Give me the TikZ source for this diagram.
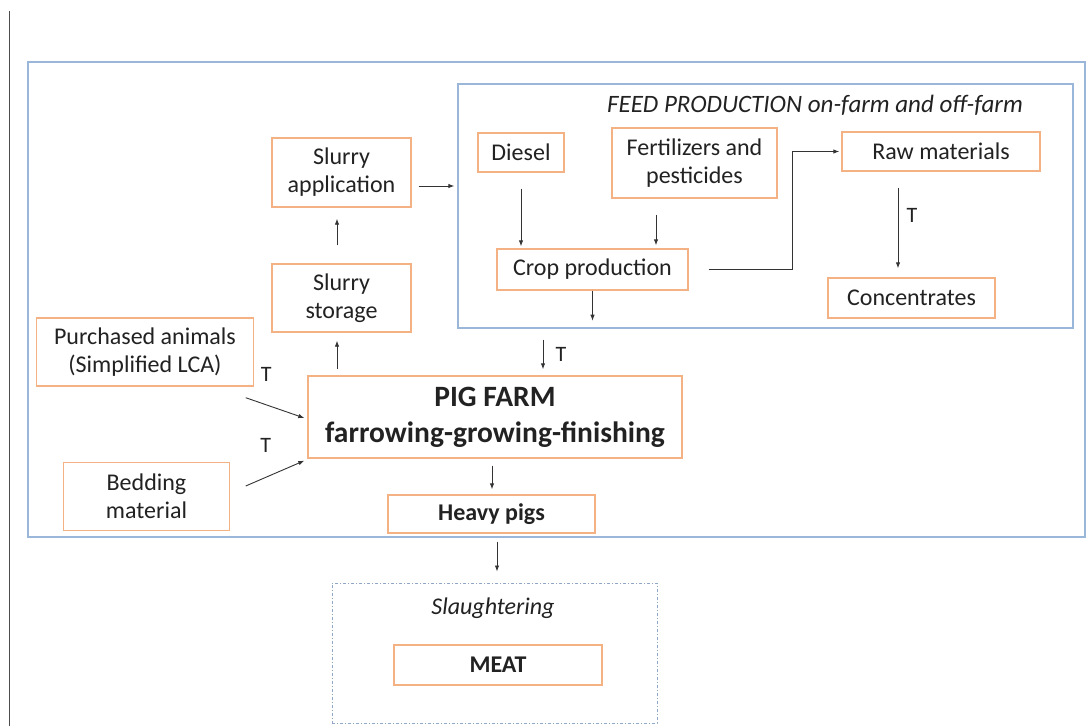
\documentclass[tikz,border=0pt]{standalone}
\usepackage{fontspec}
\setmainfont{Carlito}
\usetikzlibrary{arrows.meta,calc}
\definecolor{boxor}{HTML}{F4B183}
\definecolor{boxbl}{HTML}{9AB6D8}
\definecolor{dotbl}{HTML}{8FA8C8}
\definecolor{txt}{HTML}{222222}
\definecolor{arrc}{HTML}{333333}
\begin{document}
\begin{tikzpicture}[x=1pt,y=-1pt,
  obox/.style={draw=boxor,line width=1.4pt,inner sep=0pt,align=center,text=txt,
    font=\fontsize{24}{28}\selectfont},
  arr/.style={draw=arrc,line width=0.9pt,-{Latex[length=6pt,width=4.5pt]}},
  tlab/.style={text=txt,font=\fontsize{22}{24}\selectfont,inner sep=0pt}]
\useasboundingbox (0,0) rectangle (1088,726);
\fill[white] (0,0) rectangle (1088,726);
\draw[line width=1pt,color=black!70] (9,11) -- (9,726);
% outer system boundary
\node[draw=boxbl,line width=1.4pt,minimum width=1057pt,minimum height=475pt,inner sep=0pt] (outer) at (556.5,299.5) {};
% feed production box
\node[draw=boxbl,line width=1.4pt,minimum width=615pt,minimum height=244pt,inner sep=0pt] (feed) at (765.5,206) {};
\node[text=txt,font=\fontsize{25}{28}\selectfont\itshape,inner sep=0pt] (feedt) at (815,105) {FEED PRODUCTION on-farm and off-farm};
% slaughtering box
\node[draw=dotbl,line width=1pt,dash pattern=on 3pt off 2pt on 1pt off 2pt,minimum width=325pt,minimum height=140pt,inner sep=0pt] (slau) at (494.5,653) {};
\node[text=txt,font=\fontsize{24}{28}\selectfont\itshape,inner sep=0pt] (slaut) at (493,608) {Slaughtering};
% boxes
\node[obox,minimum width=139pt,minimum height=69pt] (slapp) at (341.5,172.5) {Slurry\\application};
\node[obox,minimum width=139pt,minimum height=68pt] (slsto) at (341.5,298) {Slurry\\storage};
\node[obox,minimum width=217pt,minimum height=68pt] (purch) at (145,352) {Purchased animals\\(Simplified LCA)};
\node[obox,minimum width=166pt,minimum height=68pt] (bed) at (146.5,496.5) {Bedding\\material};
\node[obox,minimum width=374pt,minimum height=82pt,font=\fontsize{29.5}{36}\selectfont\bfseries] (pig) at (495,417) {PIG FARM\\farrowing-growing-finishing};
\node[obox,minimum width=207pt,minimum height=38pt,font=\fontsize{24}{28}\selectfont\bfseries] (heavy) at (491.5,514) {Heavy pigs};
\node[obox,minimum width=208pt,minimum height=40pt,font=\fontsize{24}{28}\selectfont\bfseries] (meat) at (498,665) {MEAT};
\node[obox,minimum width=86pt,minimum height=39pt] (diesel) at (521,152.5) {Diesel};
\node[obox,minimum width=165pt,minimum height=70pt] (fert) at (694.5,163) {Fertilizers and\\pesticides};
\node[obox,minimum width=198pt,minimum height=39pt] (raw) at (941,151.5) {Raw materials};
\node[obox,minimum width=191pt,minimum height=41pt] (crop) at (592.5,269.5) {Crop production};
\node[obox,minimum width=167pt,minimum height=40pt] (conc) at (911.5,298) {Concentrates};
% connectors inside feed production
\draw[arr,shorten >=2pt] ([yshift=-16pt]diesel.south) -- (diesel.south |- crop.north);
\draw[arr,shorten >=3pt] ([xshift=-38.5pt,yshift=-16pt]fert.south) -- ([xshift=-38.5pt]fert.south |- crop.north);
\draw[arr,shorten >=2pt] ([xshift=20pt]crop.east) -| ([xshift=-49pt]raw.west) -- (raw.west);
\draw[arr,shorten >=9pt] ([xshift=-43pt,yshift=-16pt]raw.south) -- ([xshift=-43pt]raw.south |- conc.north);
\node[tlab] (t1) at (912,215) {T};
\coordinate (cropout) at ([yshift=-30pt]crop.south);
\draw[arr] (crop.south) -- (cropout);
% feed to pig farm
\draw[arr,shorten <=11pt,shorten >=6pt] ([xshift=48pt]pig.north |- feed.south) -- ([xshift=48pt]pig.north);
\node[tlab] (t2) at (561,354) {T};
% slurry loop
\coordinate (sa1) at ([yshift=-13.5pt]slapp.east);
\draw[arr,shorten <=7pt,shorten >=3pt] (sa1) -- (sa1 -| feed.west);
\draw[arr] ([xshift=-4.5pt,yshift=18pt]slsto.north) -- ([xshift=-4.5pt,yshift=-11pt]slapp.south);
\draw[arr] ([xshift=-158pt,yshift=6pt]pig.north) -- ([xshift=-4.5pt,yshift=-8pt]slsto.south);
% inputs to pig farm
\draw[arr] ([xshift=-8.5pt,yshift=-11pt]purch.south east) -- ([xshift=-3pt,yshift=-1pt]pig.west);
\node[tlab] (t3) at ([xshift=12pt,yshift=12pt]purch.south east) {T};
\draw[arr] ([xshift=15.5pt,yshift=10.5pt]bed.east) -- ([xshift=-3pt,yshift=-2pt]pig.south west);
\node[tlab] (t4) at ([xshift=35.5pt,yshift=16pt]bed.north east) {T};
% outputs
\draw[arr,shorten <=7pt,shorten >=5pt] ([xshift=-3pt]pig.south) -- ([xshift=-3pt]pig.south |- heavy.north);
\draw[arr,shorten <=8pt,shorten >=11pt] ([xshift=5.5pt]heavy.south) -- ([xshift=5.5pt]heavy.south |- slau.north);
\end{tikzpicture}
\end{document}
